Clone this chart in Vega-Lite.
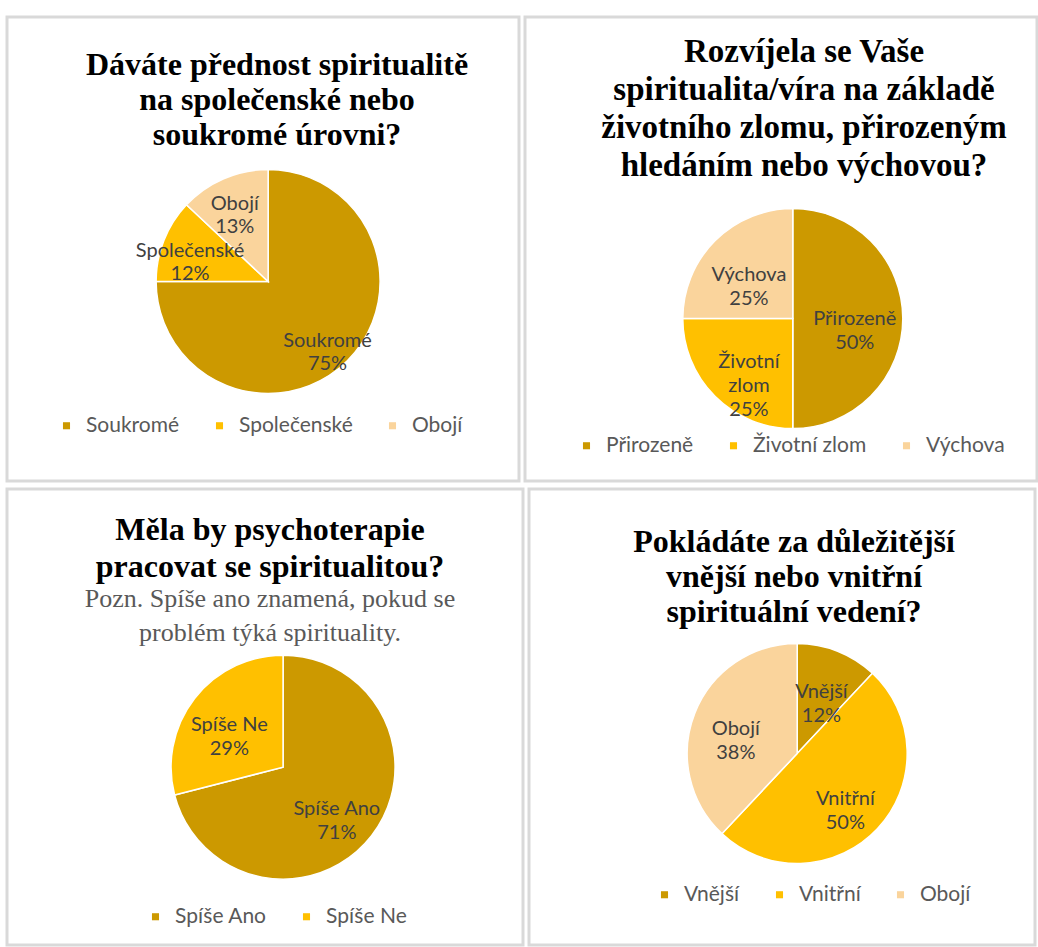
{
  "$schema": "https://vega.github.io/schema/vega-lite/v6.json",
  "padding": {"left": 5, "top": 15, "right": 0, "bottom": 0},
  "background": "white",
  "datasets": {
    "p1": [
      {"k": 1, "cat": "Soukromé", "lab": "Soukromé", "pct": 75},
      {"k": 2, "cat": "Společenské", "lab": "Společenské", "pct": 12},
      {"k": 3, "cat": "Obojí", "lab": "Obojí", "pct": 13}
    ],
    "p2": [
      {"k": 1, "cat": "Přirozeně", "lab": "Přirozeně", "pct": 50},
      {"k": 2, "cat": "Životní zlom", "lab": "Životní\nzlom", "pct": 25},
      {"k": 3, "cat": "Výchova", "lab": "Výchova", "pct": 25}
    ],
    "p3": [
      {"k": 1, "cat": "Spíše Ano", "lab": "Spíše Ano", "pct": 71},
      {"k": 2, "cat": "Spíše Ne", "lab": "Spíše Ne", "pct": 29}
    ],
    "p4": [
      {"k": 1, "cat": "Vnější", "lab": "Vnější", "pct": 12},
      {"k": 2, "cat": "Vnitřní", "lab": "Vnitřní", "pct": 50},
      {"k": 3, "cat": "Obojí", "lab": "Obojí", "pct": 38}
    ]
  },
  "spacing": 4,
  "resolve": {"scale": {"color": "independent", "x": "independent", "y": "independent"}, "legend": {"color": "independent"}},
  "vconcat": [
    {
      "spacing": 2,
      "resolve": {"scale": {"color": "independent", "x": "independent", "y": "independent"}, "legend": {"color": "independent"}},
      "hconcat": [
        {
          "width": 512, "height": 464,
          "data": {"name": "p1"},
          "title": {"text": ["Dáváte přednost spiritualitě", "na společenské nebo", "soukromé úrovni?"], "offset": -135, "dx": 14, "lineHeight": 35},
          "transform": [{"calculate": "datum.lab + '\\n' + datum.pct + '%'", "as": "txt"}],
          "encoding": {
            "x": {"datum": 0, "type": "quantitative", "scale": {"domain": [-0.51, 0.49], "nice": false, "zero": false}, "axis": null},
            "y": {"datum": 0, "type": "quantitative", "scale": {"domain": [-0.43, 0.57], "nice": false, "zero": false}, "axis": null},
            "theta": {"field": "pct", "type": "quantitative", "stack": true},
            "order": {"field": "k", "type": "quantitative"}
          },
          "layer": [
            {
              "mark": {"type": "arc", "radius": 112, "stroke": "white", "strokeWidth": 1.5},
              "encoding": {
                "color": {"field": "cat", "type": "nominal", "sort": null,
                  "scale": {"domain": ["Soukromé", "Společenské", "Obojí"], "range": ["#CC9900", "#FFC000", "#FAD49C"]},
                  "legend": {"orient": "none", "legendX": 49, "legendY": 398}}
              }
            },
            {
              "mark": {"type": "text", "radius": 84, "lineBreak": "\n", "font": "Lato", "fontSize": 20, "fill": "#404040", "lineHeight": 23},
              "encoding": {"text": {"field": "txt"}, "detail": {"field": "cat"}}
            }
          ]
        },
        {
          "width": 512, "height": 464,
          "data": {"name": "p2"},
          "title": {"text": ["Rozvíjela se Vaše", "spiritualita/víra na základě", "životního zlomu, přirozeným", "hledáním nebo výchovou?"], "offset": -166, "dx": 23, "lineHeight": 38, "fontSize": 33},
          "transform": [{"calculate": "datum.lab + '\\n' + datum.pct + '%'", "as": "txt"}],
          "encoding": {
            "x": {"datum": 0, "type": "quantitative", "scale": {"domain": [-0.523, 0.477], "nice": false, "zero": false}, "axis": null},
            "y": {"datum": 0, "type": "quantitative", "scale": {"domain": [-0.35, 0.65], "nice": false, "zero": false}, "axis": null},
            "theta": {"field": "pct", "type": "quantitative", "stack": true},
            "order": {"field": "k", "type": "quantitative"}
          },
          "layer": [
            {
              "mark": {"type": "arc", "radius": 110, "stroke": "white", "strokeWidth": 1.5},
              "encoding": {
                "color": {"field": "cat", "type": "nominal", "sort": null,
                  "scale": {"domain": ["Přirozeně", "Životní zlom", "Výchova"], "range": ["#CC9900", "#FFC000", "#FAD49C"]},
                  "legend": {"orient": "none", "legendX": 51, "legendY": 418}}
              }
            },
            {
              "mark": {"type": "text", "radius": 62, "lineBreak": "\n", "font": "Lato", "fontSize": 20, "fill": "#404040", "lineHeight": 24},
              "encoding": {"text": {"field": "txt"}, "detail": {"field": "cat"}}
            }
          ]
        }
      ]
    },
    {
      "spacing": 2,
      "resolve": {"scale": {"color": "independent", "x": "independent", "y": "independent"}, "legend": {"color": "independent"}},
      "hconcat": [
        {
          "width": 516, "height": 456,
          "data": {"name": "p3"},
          "title": {"text": ["Měla by psychoterapie", "pracovat se spiritualitou?"], "subtitle": ["Pozn. Spíše ano znamená, pokud se", "problém týká spirituality."], "offset": -158, "dx": 5, "lineHeight": 37},
          "transform": [{"calculate": "datum.lab + '\\n' + datum.pct + '%'", "as": "txt"}],
          "encoding": {
            "x": {"datum": 0, "type": "quantitative", "scale": {"domain": [-0.535, 0.465], "nice": false, "zero": false}, "axis": null},
            "y": {"datum": 0, "type": "quantitative", "scale": {"domain": [-0.39, 0.61], "nice": false, "zero": false}, "axis": null},
            "theta": {"field": "pct", "type": "quantitative", "stack": true},
            "order": {"field": "k", "type": "quantitative"}
          },
          "layer": [
            {
              "mark": {"type": "arc", "radius": 112, "stroke": "white", "strokeWidth": 1.5},
              "encoding": {
                "color": {"field": "cat", "type": "nominal", "sort": null,
                  "scale": {"domain": ["Spíše Ano", "Spíše Ne"], "range": ["#CC9900", "#FFC000"]},
                  "legend": {"orient": "none", "legendX": 138, "legendY": 417}}
              }
            },
            {
              "mark": {"type": "text", "radius": 68, "lineBreak": "\n", "font": "Lato", "fontSize": 20, "fill": "#404040", "lineHeight": 24},
              "encoding": {"text": {"field": "txt"}, "detail": {"field": "cat"}}
            }
          ]
        },
        {
          "width": 506, "height": 456,
          "data": {"name": "p4"},
          "title": {"text": ["Pokládáte za důležitější", "vnější nebo vnitřní", "spirituální vedení?"], "offset": -140, "dx": 12, "lineHeight": 35},
          "transform": [{"calculate": "datum.lab + '\\n' + datum.pct + '%'", "as": "txt"}],
          "encoding": {
            "x": {"datum": 0, "type": "quantitative", "scale": {"domain": [-0.53, 0.47], "nice": false, "zero": false}, "axis": null},
            "y": {"datum": 0, "type": "quantitative", "scale": {"domain": [-0.42, 0.58], "nice": false, "zero": false}, "axis": null},
            "theta": {"field": "pct", "type": "quantitative", "stack": true},
            "order": {"field": "k", "type": "quantitative"}
          },
          "layer": [
            {
              "mark": {"type": "arc", "radius": 110, "stroke": "white", "strokeWidth": 1.5},
              "encoding": {
                "color": {"field": "cat", "type": "nominal", "sort": null,
                  "scale": {"domain": ["Vnější", "Vnitřní", "Obojí"], "range": ["#CC9900", "#FFC000", "#FAD49C"]},
                  "legend": {"orient": "none", "legendX": 125, "legendY": 395}}
              }
            },
            {
              "mark": {"type": "text", "radius": 66, "lineBreak": "\n", "font": "Lato", "fontSize": 20, "fill": "#404040", "lineHeight": 24},
              "encoding": {"text": {"field": "txt"}, "detail": {"field": "cat"}}
            }
          ]
        }
      ]
    }
  ],
  "config": {
    "view": {"stroke": "#d9d9d9", "strokeWidth": 3},
    "title": {"font": "Liberation Serif", "fontWeight": "bold", "fontSize": 32, "color": "#000000", "anchor": "middle", "subtitleFont": "Liberation Serif", "subtitleFontSize": 26, "subtitleFontWeight": "normal", "subtitleColor": "#595959", "subtitleLineHeight": 34, "subtitlePadding": 2},
    "legend": {"direction": "horizontal", "title": null, "symbolType": "square", "symbolSize": 50, "symbolStrokeWidth": 0, "labelFont": "Lato", "labelFontSize": 21, "labelColor": "#595959", "columnPadding": 29, "labelOffset": 9}
  }
}
